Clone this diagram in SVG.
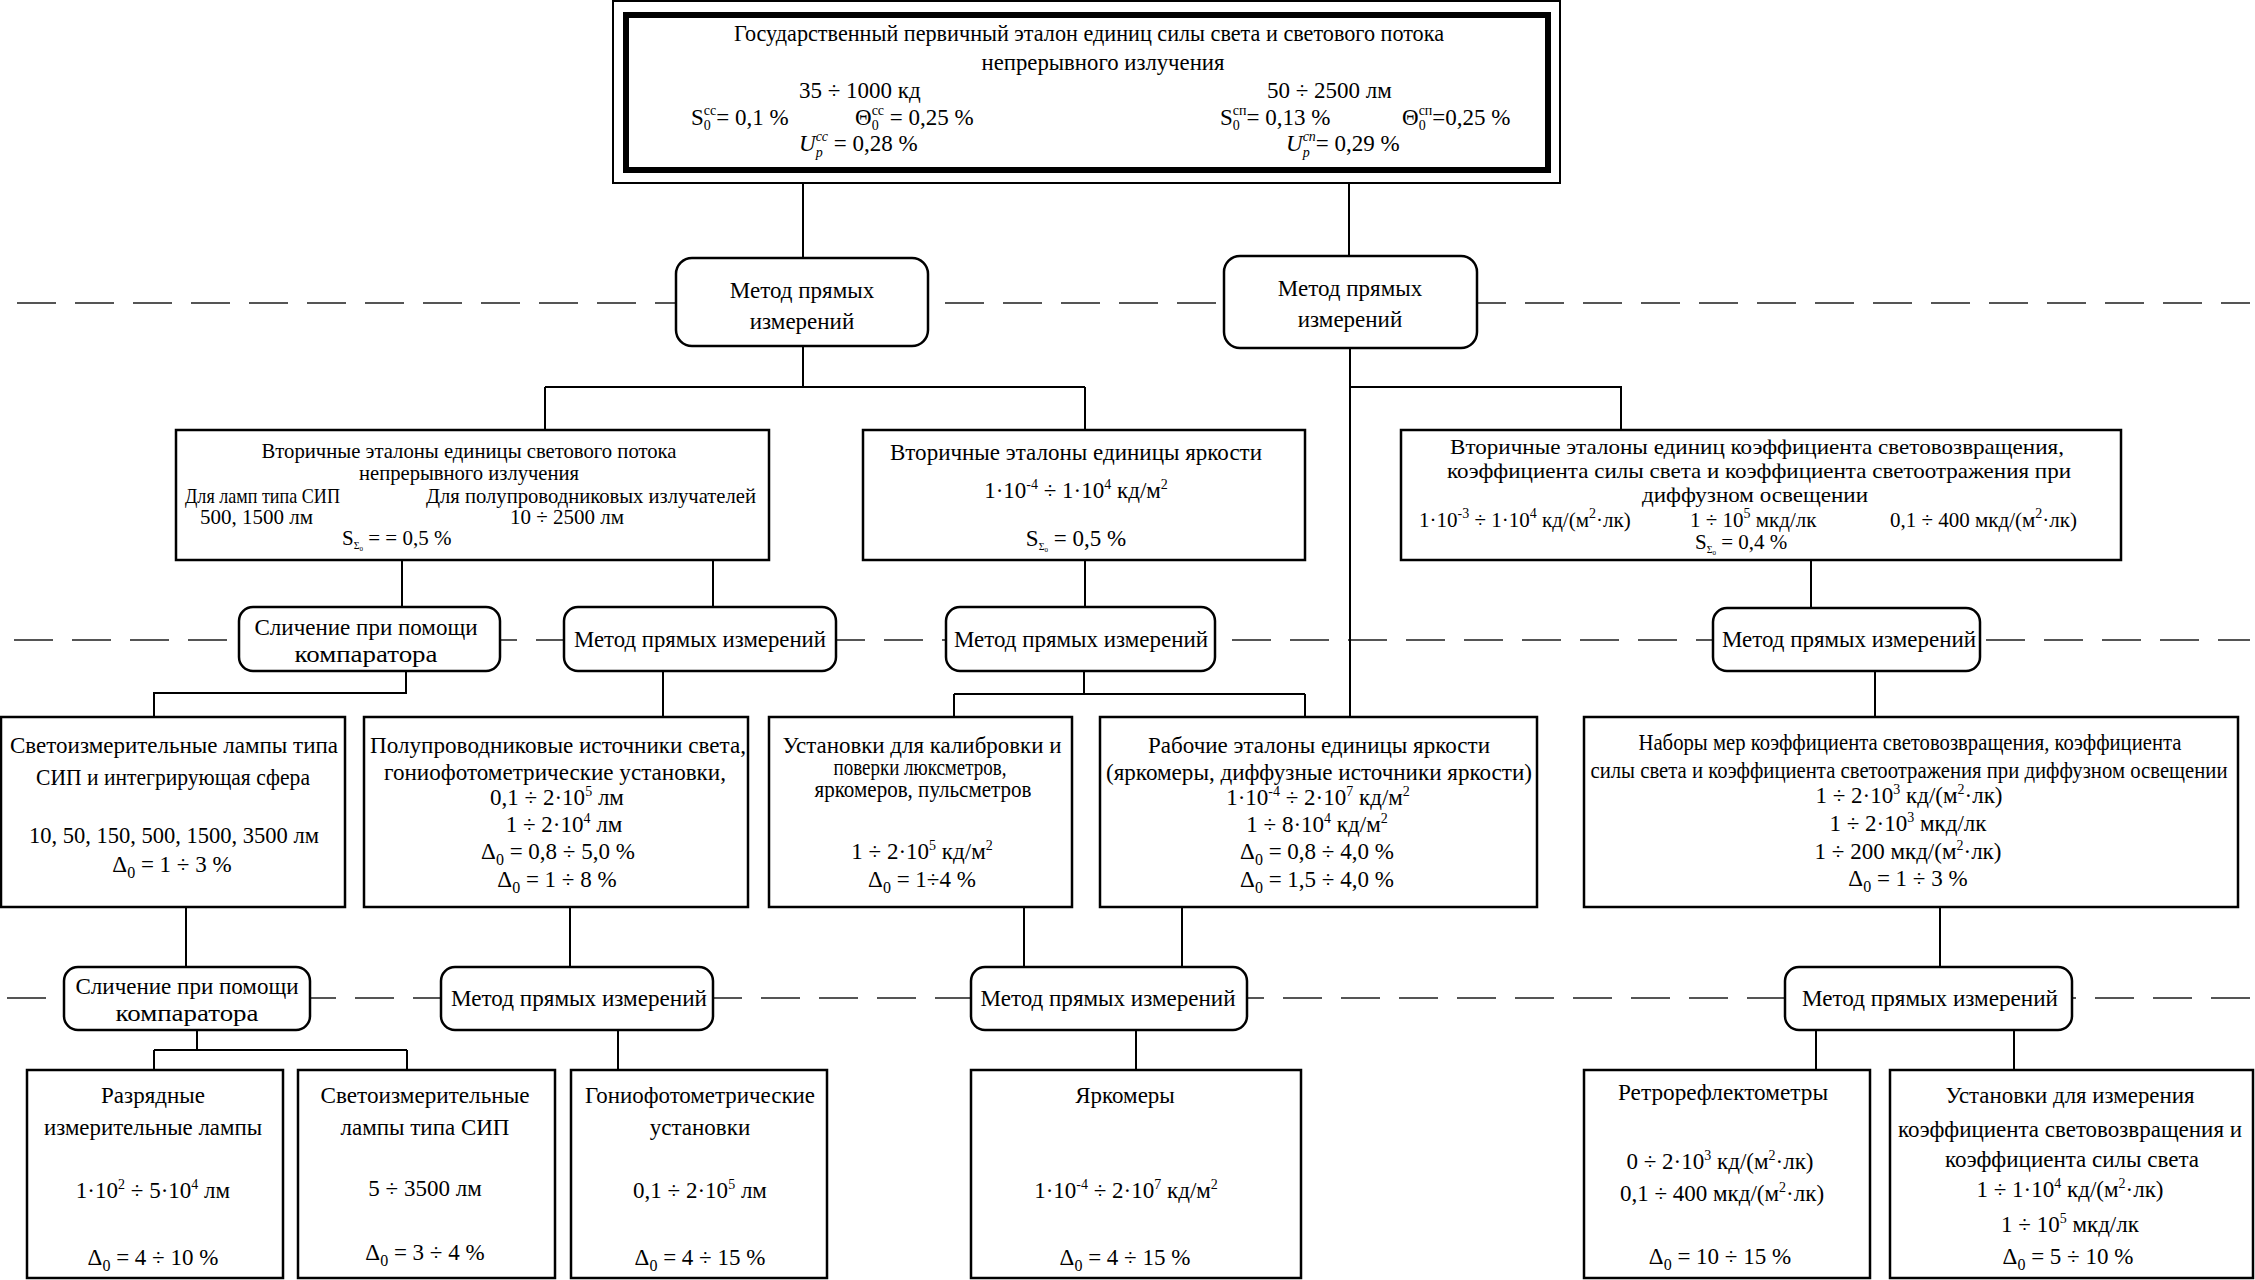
<svg xmlns="http://www.w3.org/2000/svg" width="2255" height="1280" viewBox="0 0 2255 1280">
<style>
.t{font-family:"Liberation Serif","Times New Roman",serif;font-size:23px;fill:#000;text-anchor:middle}
.a{font-size:21px}
.c22{font-size:21px}
.l{text-anchor:start}
.s{font-size:14px}
.z{font-size:16px}
.i{font-style:italic}
.box{fill:#fff;stroke:#000;stroke-width:2.5}
.m{fill:#fff;stroke:#000;stroke-width:2.5}
.dash{stroke:#555;stroke-width:2;stroke-dasharray:39 19;fill:none}
.c{stroke:#000;stroke-width:2;fill:none}
</style>
<rect width="2255" height="1280" fill="#fff"/>
<g id="levels">
<line class="dash" x1="17" y1="303" x2="2250" y2="303"/>
<line class="dash" x1="14" y1="640" x2="2250" y2="640"/>
<line class="dash" x1="7" y1="998" x2="2250" y2="998"/>
</g>
<g id="connectors">
<path class="c" d="M803 184V258M1349 184V256"/>
<path class="c" d="M803 346V387M545 387H1085M545 387V430M1085 387V430"/>
<path class="c" d="M1350 348V717M1350 387H1621V430"/>
<path class="c" d="M402 560V607M713 560V607M1085 560V607M1811 560V608"/>
<path class="c" d="M406 671V693H154V717M663 671V717"/>
<path class="c" d="M1084 671V694M954 694H1305M954 694V717M1305 694V717M1875 671V717"/>
<path class="c" d="M186 907V967M570 907V967M1024 907V967M1182 907V967M1940 907V967"/>
<path class="c" d="M197 1030V1050M154 1050H407M154 1050V1070M407 1050V1070"/>
<path class="c" d="M618 1030V1070M1136 1030V1070M1816 1030V1070M2014 1030V1070"/>
</g>

<g id="primary">
<rect x="613" y="1" width="947" height="182" fill="#fff" stroke="#000" stroke-width="2"/>
<rect x="626" y="15" width="922" height="155" fill="none" stroke="#000" stroke-width="6"/>
<text class="t" x="1089" y="41" textLength="710" lengthAdjust="spacingAndGlyphs">Государственный первичный эталон единиц силы света и светового потока</text>
<text class="t" x="1103" y="70" textLength="243" lengthAdjust="spacingAndGlyphs">непрерывного излучения</text>
<text class="t l" x="799" y="98">35 ÷ 1000 кд</text>
<text class="t l" x="1267" y="98">50 ÷ 2500 лм</text>
<text class="t l" x="691" y="125">S<tspan class="s" dy="5">0</tspan><tspan class="s" dx="-7" dy="-15">сс</tspan><tspan dy="10">= 0,1 %</tspan></text>
<text class="t l" x="855" y="125">Θ<tspan class="s" dy="5">0</tspan><tspan class="s" dx="-7" dy="-15">сс</tspan><tspan dy="10"> = 0,25 %</tspan></text>
<text class="t l" x="1220" y="125">S<tspan class="s" dy="5">0</tspan><tspan class="s" dx="-7" dy="-15">сп</tspan><tspan dy="10">= 0,13 %</tspan></text>
<text class="t l" x="1402" y="125">Θ<tspan class="s" dy="5">0</tspan><tspan class="s" dx="-7" dy="-15">сп</tspan><tspan dy="10">=0,25 %</tspan></text>
<text class="t l" x="799" y="151"><tspan class="i">U</tspan><tspan class="s i" dy="6">p</tspan><tspan class="s i" dx="-7" dy="-16">сс</tspan><tspan dy="10"> = 0,28 %</tspan></text>
<text class="t l" x="1286" y="151"><tspan class="i">U</tspan><tspan class="s i" dy="6">p</tspan><tspan class="s i" dx="-7" dy="-16">сп</tspan><tspan dy="10">= 0,29 %</tspan></text>
</g>

<g id="method-1">
<rect class="m" x="676" y="258" width="252" height="88" rx="16"/>
<text class="t" x="802" y="298">Метод прямых</text>
<text class="t" x="802" y="329">измерений</text>
</g>
<g id="method-2">
<rect class="m" x="1224" y="256" width="253" height="92" rx="16"/>
<text class="t" x="1350" y="296">Метод прямых</text>
<text class="t" x="1350" y="327">измерений</text>
</g>

<g id="sec-flux">
<rect class="box" x="176" y="430" width="593" height="130"/>
<text class="t a" x="469" y="458" textLength="415" lengthAdjust="spacingAndGlyphs">Вторичные эталоны единицы светового потока</text>
<text class="t a" x="469" y="480" textLength="220" lengthAdjust="spacingAndGlyphs">непрерывного излучения</text>
<text class="t a l" x="185" y="503" textLength="155" lengthAdjust="spacingAndGlyphs">Для ламп типа СИП</text>
<text class="t a l" x="426" y="503" textLength="330" lengthAdjust="spacingAndGlyphs">Для полупроводниковых излучателей</text>
<text class="t a l" x="200" y="524">500, 1500 лм</text>
<text class="t a l" x="510" y="524">10 ÷ 2500 лм</text>
<text class="t a l" x="342" y="545">S<tspan font-size="10" dy="4">Σ</tspan><tspan font-size="7" dy="2">0</tspan><tspan dy="-6"> = = 0,5 %</tspan></text>
</g>

<g id="sec-lum">
<rect class="box" x="863" y="430" width="442" height="130"/>
<text class="t" x="1076" y="460" textLength="372" lengthAdjust="spacingAndGlyphs">Вторичные эталоны единицы яркости</text>
<text class="t" x="1076" y="498">1·10<tspan class="s" dy="-9">-4</tspan><tspan dy="9"> ÷ 1·10</tspan><tspan class="s" dy="-9">4</tspan><tspan dy="9"> кд/м</tspan><tspan class="s" dy="-9">2</tspan></text>
<text class="t" x="1076" y="546">S<tspan font-size="10" dy="4">Σ</tspan><tspan font-size="7" dy="2">0</tspan><tspan dy="-6"> = 0,5 %</tspan></text>
</g>

<g id="sec-retro">
<rect class="box" x="1401" y="430" width="720" height="130"/>
<text class="t c22" x="1757" y="454" textLength="614" lengthAdjust="spacingAndGlyphs">Вторичные эталоны единиц коэффициента световозвращения,</text>
<text class="t c22" x="1759" y="478" textLength="624" lengthAdjust="spacingAndGlyphs">коэффициента силы света и коэффициента светоотражения при</text>
<text class="t c22" x="1755" y="502" textLength="226" lengthAdjust="spacingAndGlyphs">диффузном освещении</text>
<text class="t c22 l" x="1419" y="527">1·10<tspan class="s" dy="-9">-3</tspan><tspan dy="9">  ÷ 1·10</tspan><tspan class="s" dy="-9">4</tspan><tspan dy="9"> кд/(м</tspan><tspan class="s" dy="-9">2</tspan><tspan dy="9">·лк)</tspan></text>
<text class="t c22 l" x="1690" y="527">1 ÷ 10<tspan class="s" dy="-9">5</tspan><tspan dy="9"> мкд/лк</tspan></text>
<text class="t c22 l" x="1890" y="527">0,1 ÷ 400 мкд/(м<tspan class="s" dy="-9">2</tspan><tspan dy="9">·лк)</tspan></text>
<text class="t c22 l" x="1695" y="549">S<tspan font-size="10" dy="4">Σ</tspan><tspan font-size="7" dy="2">0</tspan><tspan dy="-6">  = 0,4 %</tspan></text>
</g>

<g id="m2-cmp">
<rect class="m" x="239" y="607" width="261" height="64" rx="14"/>
<text class="t" x="366" y="635" textLength="223" lengthAdjust="spacingAndGlyphs">Сличение при помощи</text>
<text class="t" x="366" y="662" textLength="143" lengthAdjust="spacingAndGlyphs">компаратора</text>
</g>
<g id="m2-a">
<rect class="m" x="564" y="607" width="272" height="64" rx="14"/>
<text class="t" x="700" y="647" textLength="252" lengthAdjust="spacingAndGlyphs">Метод прямых измерений</text>
</g>
<g id="m2-b">
<rect class="m" x="946" y="607" width="269" height="64" rx="14"/>
<text class="t" x="1081" y="647" textLength="254" lengthAdjust="spacingAndGlyphs">Метод прямых измерений</text>
</g>
<g id="m2-c">
<rect class="m" x="1713" y="608" width="267" height="63" rx="14"/>
<text class="t" x="1849" y="647" textLength="254" lengthAdjust="spacingAndGlyphs">Метод прямых измерений</text>
</g>

<g id="w-sip">
<rect class="box" x="1" y="717" width="344" height="190"/>
<text class="t" x="174" y="753" textLength="328" lengthAdjust="spacingAndGlyphs">Светоизмерительные лампы типа</text>
<text class="t" x="173" y="785" textLength="274" lengthAdjust="spacingAndGlyphs">СИП и интегрирующая сфера</text>
<text class="t" x="174" y="843" textLength="290" lengthAdjust="spacingAndGlyphs">10, 50, 150, 500, 1500, 3500 лм</text>
<text class="t" x="172" y="872">Δ<tspan class="z" dy="6">0</tspan><tspan dy="-6"> = 1 ÷ 3 %</tspan></text>
</g>
<g id="w-led">
<rect class="box" x="364" y="717" width="384" height="190"/>
<text class="t" x="558" y="753" textLength="376" lengthAdjust="spacingAndGlyphs">Полупроводниковые источники света,</text>
<text class="t" x="555" y="780" textLength="342" lengthAdjust="spacingAndGlyphs">гониофотометрические установки,</text>
<text class="t" x="557" y="805">0,1 ÷ 2·10<tspan class="s" dy="-9">5</tspan><tspan dy="9">  лм</tspan></text>
<text class="t" x="564" y="832">1 ÷ 2·10<tspan class="s" dy="-9">4</tspan><tspan dy="9">  лм</tspan></text>
<text class="t" x="558" y="859">Δ<tspan class="z" dy="6">0</tspan><tspan dy="-6">  = 0,8 ÷ 5,0 %</tspan></text>
<text class="t" x="557" y="887">Δ<tspan class="z" dy="6">0</tspan><tspan dy="-6"> = 1 ÷ 8 %</tspan></text>
</g>
<g id="w-cal">
<rect class="box" x="769" y="717" width="303" height="190"/>
<text class="t" x="922" y="753" textLength="279" lengthAdjust="spacingAndGlyphs">Установки для калибровки и</text>
<text class="t" x="920" y="775" textLength="173" lengthAdjust="spacingAndGlyphs">поверки люксметров,</text>
<text class="t" x="923" y="797" textLength="217" lengthAdjust="spacingAndGlyphs">яркомеров, пульсметров</text>
<text class="t" x="922" y="859">1 ÷ 2·10<tspan class="s" dy="-9">5</tspan><tspan dy="9"> кд/м</tspan><tspan class="s" dy="-9">2</tspan></text>
<text class="t" x="922" y="887">Δ<tspan class="z" dy="6">0</tspan><tspan dy="-6"> = 1÷4 %</tspan></text>
</g>
<g id="w-lum">
<rect class="box" x="1100" y="717" width="437" height="190"/>
<text class="t" x="1319" y="753" textLength="342" lengthAdjust="spacingAndGlyphs">Рабочие эталоны единицы яркости</text>
<text class="t" x="1319" y="780" textLength="426" lengthAdjust="spacingAndGlyphs">(яркомеры, диффузные источники яркости)</text>
<text class="t" x="1318" y="805">1·10<tspan class="s" dy="-9">-4</tspan><tspan dy="9"> ÷ 2·10</tspan><tspan class="s" dy="-9">7</tspan><tspan dy="9"> кд/м</tspan><tspan class="s" dy="-9">2</tspan></text>
<text class="t" x="1317" y="832">1 ÷ 8·10<tspan class="s" dy="-9">4</tspan><tspan dy="9"> кд/м</tspan><tspan class="s" dy="-9">2</tspan></text>
<text class="t" x="1317" y="859">Δ<tspan class="z" dy="6">0</tspan><tspan dy="-6">  = 0,8 ÷ 4,0 %</tspan></text>
<text class="t" x="1317" y="887">Δ<tspan class="z" dy="6">0</tspan><tspan dy="-6">  = 1,5 ÷ 4,0 %</tspan></text>
</g>
<g id="w-sets">
<rect class="box" x="1584" y="717" width="654" height="190"/>
<text class="t" x="1910" y="750" textLength="543" lengthAdjust="spacingAndGlyphs">Наборы мер коэффициента световозвращения, коэффициента</text>
<text class="t" x="1909" y="778" textLength="637" lengthAdjust="spacingAndGlyphs">силы света и коэффициента светоотражения при диффузном освещении</text>
<text class="t" x="1909" y="803">1 ÷ 2·10<tspan class="s" dy="-9">3</tspan><tspan dy="9">  кд/(м</tspan><tspan class="s" dy="-9">2</tspan><tspan dy="9">·лк)</tspan></text>
<text class="t" x="1908" y="831">1 ÷ 2·10<tspan class="s" dy="-9">3</tspan><tspan dy="9">  мкд/лк</tspan></text>
<text class="t" x="1908" y="859">1 ÷ 200 мкд/(м<tspan class="s" dy="-9">2</tspan><tspan dy="9">·лк)</tspan></text>
<text class="t" x="1908" y="886">Δ<tspan class="z" dy="6">0</tspan><tspan dy="-6">  = 1 ÷ 3 %</tspan></text>
</g>

<g id="m3-cmp">
<rect class="m" x="64" y="967" width="246" height="63" rx="14"/>
<text class="t" x="187" y="994" textLength="223" lengthAdjust="spacingAndGlyphs">Сличение при помощи</text>
<text class="t" x="187" y="1021" textLength="143" lengthAdjust="spacingAndGlyphs">компаратора</text>
</g>
<g id="m3-a">
<rect class="m" x="441" y="967" width="272" height="63" rx="14"/>
<text class="t" x="579" y="1006" textLength="256" lengthAdjust="spacingAndGlyphs">Метод прямых измерений</text>
</g>
<g id="m3-b">
<rect class="m" x="971" y="967" width="276" height="63" rx="14"/>
<text class="t" x="1108" y="1006" textLength="255" lengthAdjust="spacingAndGlyphs">Метод прямых измерений</text>
</g>
<g id="m3-c">
<rect class="m" x="1785" y="967" width="287" height="63" rx="14"/>
<text class="t" x="1930" y="1006" textLength="256" lengthAdjust="spacingAndGlyphs">Метод прямых измерений</text>
</g>

<g id="b-discharge">
<rect class="box" x="27" y="1070" width="256" height="208"/>
<text class="t" x="153" y="1103">Разрядные</text>
<text class="t" x="153" y="1135" textLength="218" lengthAdjust="spacingAndGlyphs">измерительные лампы</text>
<text class="t" x="153" y="1198">1·10<tspan class="s" dy="-9">2</tspan><tspan dy="9"> ÷ 5·10</tspan><tspan class="s" dy="-9">4</tspan><tspan dy="9"> лм</tspan></text>
<text class="t" x="153" y="1265">Δ<tspan class="z" dy="6">0</tspan><tspan dy="-6">  = 4 ÷ 10 %</tspan></text>
</g>
<g id="b-sip">
<rect class="box" x="298" y="1070" width="257" height="208"/>
<text class="t" x="425" y="1103" textLength="209" lengthAdjust="spacingAndGlyphs">Светоизмерительные</text>
<text class="t" x="425" y="1135" textLength="169" lengthAdjust="spacingAndGlyphs">лампы типа СИП</text>
<text class="t" x="425" y="1196">5 ÷ 3500 лм</text>
<text class="t" x="425" y="1260">Δ<tspan class="z" dy="6">0</tspan><tspan dy="-6">  = 3 ÷ 4 %</tspan></text>
</g>
<g id="b-gonio">
<rect class="box" x="571" y="1070" width="256" height="208"/>
<text class="t" x="700" y="1103" textLength="230" lengthAdjust="spacingAndGlyphs">Гониофотометрические</text>
<text class="t" x="700" y="1135">установки</text>
<text class="t" x="700" y="1198">0,1 ÷ 2·10<tspan class="s" dy="-9">5</tspan><tspan dy="9">  лм</tspan></text>
<text class="t" x="700" y="1265">Δ<tspan class="z" dy="6">0</tspan><tspan dy="-6">  = 4 ÷ 15 %</tspan></text>
</g>
<g id="b-lum">
<rect class="box" x="971" y="1070" width="330" height="208"/>
<text class="t" x="1125" y="1103">Яркомеры</text>
<text class="t" x="1126" y="1198">1·10<tspan class="s" dy="-9">-4</tspan><tspan dy="9"> ÷ 2·10</tspan><tspan class="s" dy="-9">7</tspan><tspan dy="9"> кд/м</tspan><tspan class="s" dy="-9">2</tspan></text>
<text class="t" x="1125" y="1265">Δ<tspan class="z" dy="6">0</tspan><tspan dy="-6">  = 4 ÷ 15 %</tspan></text>
</g>
<g id="b-retro">
<rect class="box" x="1584" y="1070" width="286" height="208"/>
<text class="t" x="1723" y="1100" textLength="210" lengthAdjust="spacingAndGlyphs">Ретрорефлектометры</text>
<text class="t" x="1720" y="1169">0 ÷ 2·10<tspan class="s" dy="-9">3</tspan><tspan dy="9">  кд/(м</tspan><tspan class="s" dy="-9">2</tspan><tspan dy="9">·лк)</tspan></text>
<text class="t" x="1722" y="1201">0,1 ÷ 400 мкд/(м<tspan class="s" dy="-9">2</tspan><tspan dy="9">·лк)</tspan></text>
<text class="t" x="1720" y="1264">Δ<tspan class="z" dy="6">0</tspan><tspan dy="-6">  = 10 ÷ 15 %</tspan></text>
</g>
<g id="b-setup">
<rect class="box" x="1890" y="1070" width="363" height="208"/>
<text class="t" x="2070" y="1103" textLength="249" lengthAdjust="spacingAndGlyphs">Установки для измерения</text>
<text class="t" x="2070" y="1137" textLength="344" lengthAdjust="spacingAndGlyphs">коэффициента световозвращения и</text>
<text class="t" x="2072" y="1167" textLength="254" lengthAdjust="spacingAndGlyphs">коэффициента силы света</text>
<text class="t" x="2070" y="1197">1 ÷ 1·10<tspan class="s" dy="-9">4</tspan><tspan dy="9">  кд/(м</tspan><tspan class="s" dy="-9">2</tspan><tspan dy="9">·лк)</tspan></text>
<text class="t" x="2070" y="1232">1 ÷ 10<tspan class="s" dy="-9">5</tspan><tspan dy="9"> мкд/лк</tspan></text>
<text class="t" x="2068" y="1264">Δ<tspan class="z" dy="6">0</tspan><tspan dy="-6">  = 5 ÷ 10 %</tspan></text>
</g>
</svg>
